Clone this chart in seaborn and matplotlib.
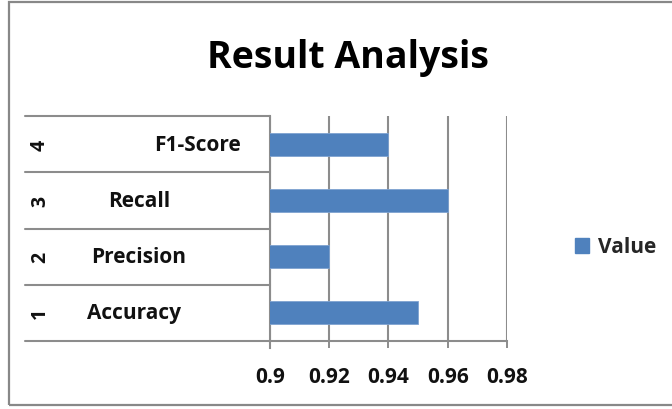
import matplotlib
matplotlib.use("Agg")
import matplotlib.pyplot as plt
import matplotlib.patches as mpatches
import seaborn as sns
import pandas as pd

# Chart data
metrics = ["Accuracy", "Precision", "Recall", "F1-Score"]
ranks = ["1", "2", "3", "4"]
values = [0.95, 0.92, 0.96, 0.94]
xticks = [0.9, 0.92, 0.94, 0.96, 0.98]
series_name = "Value"
title = "Result Analysis"

# Layout (pixel positions on a 672x410 canvas)
W, H = 672, 410
ax_left, ax_right, ax_top, ax_bottom = 270, 507, 117, 342
table_left = 25
rank_x = 40
label_x = [134, 139, 139, 197]

BAR = "#4f81bd"
GRID = "#8c8c8c"
FONT = "Open Sans"

sns.set_theme(style="white")
plt.rcParams["font.family"] = [FONT, "DejaVu Sans"]

df = pd.DataFrame({"metric": metrics, "value": values, "series": series_name})
order = metrics[::-1]

fig = plt.figure(figsize=(W / 100, H / 100), dpi=100)
ax = fig.add_axes([ax_left / W, 1 - ax_bottom / H,
                   (ax_right - ax_left) / W, (ax_bottom - ax_top) / H])

sns.barplot(data=df, y="metric", x="value", hue="series", order=order,
            orient="h", palette=[BAR], saturation=1, width=0.41, ax=ax,
            legend=False, edgecolor="#7fa3d1", linewidth=0.6, zorder=3)

ax.set_xlim(xticks[0], xticks[-1])
ax.set_ylim(len(order) - 0.5, -0.5)
ax.set_xticks(xticks)
ax.set_xticklabels([f"{t:g}" for t in xticks], fontsize=15, fontweight="bold",
                   color="#111111")
ax.set_yticks([])
ax.set_xlabel("")
ax.set_ylabel("")
ax.tick_params(axis="x", length=5, width=1.4, color=GRID, pad=13, direction="out",
               bottom=True)
ax.xaxis.grid(True, color=GRID, linewidth=1.5, zorder=0)
ax.set_axisbelow(True)
for side in ["top", "right"]:
    ax.spines[side].set_visible(False)
for side in ["left", "bottom"]:
    ax.spines[side].set_color(GRID)
    ax.spines[side].set_linewidth(1.5)
ax.spines["left"].set_bounds(len(order) - 0.5 + 0.12, -0.5)

# Category table to the left of the plot
tx0 = (table_left - ax_left) / (ax_right - ax_left)
n = len(metrics)
for k in range(n + 1):
    yy = k / n
    ax.plot([tx0, 0], [yy, yy], transform=ax.transAxes, color=GRID,
            linewidth=1.5, clip_on=False, zorder=1)

for i, (m, r) in enumerate(zip(metrics, ranks)):
    yc = (i + 0.5) / n
    ax.text((rank_x - ax_left) / (ax_right - ax_left), yc, r, transform=ax.transAxes,
            rotation=90, ha="center", va="center", fontsize=14, fontweight="bold",
            color="#111111")
    ax.text((label_x[i] - ax_left) / (ax_right - ax_left), yc, m,
            transform=ax.transAxes, ha="center", va="center", fontsize=15,
            fontweight="bold", color="#111111")

# Title
fig.text(348 / W, 1 - 58 / H, title, ha="center", va="center", fontsize=27,
         fontweight="bold", color="#000000")

# Legend
handle = mpatches.Patch(facecolor=BAR, edgecolor=BAR, label=series_name)
fig.legend(handles=[handle], loc="center left", bbox_to_anchor=(556 / W, 1 - 248 / H),
           frameon=False, prop={"family": FONT, "weight": "bold", "size": 15},
           handlelength=0.7, handleheight=0.7, handletextpad=0.4)

# Chart frame
fig.patches.append(mpatches.Rectangle((9 / W, 1 - 406 / H), 1.0, (406 - 3) / H,
                                      transform=fig.transFigure, fill=False,
                                      edgecolor="#888888", linewidth=1.6))

fig.savefig("out.png", dpi=100)
